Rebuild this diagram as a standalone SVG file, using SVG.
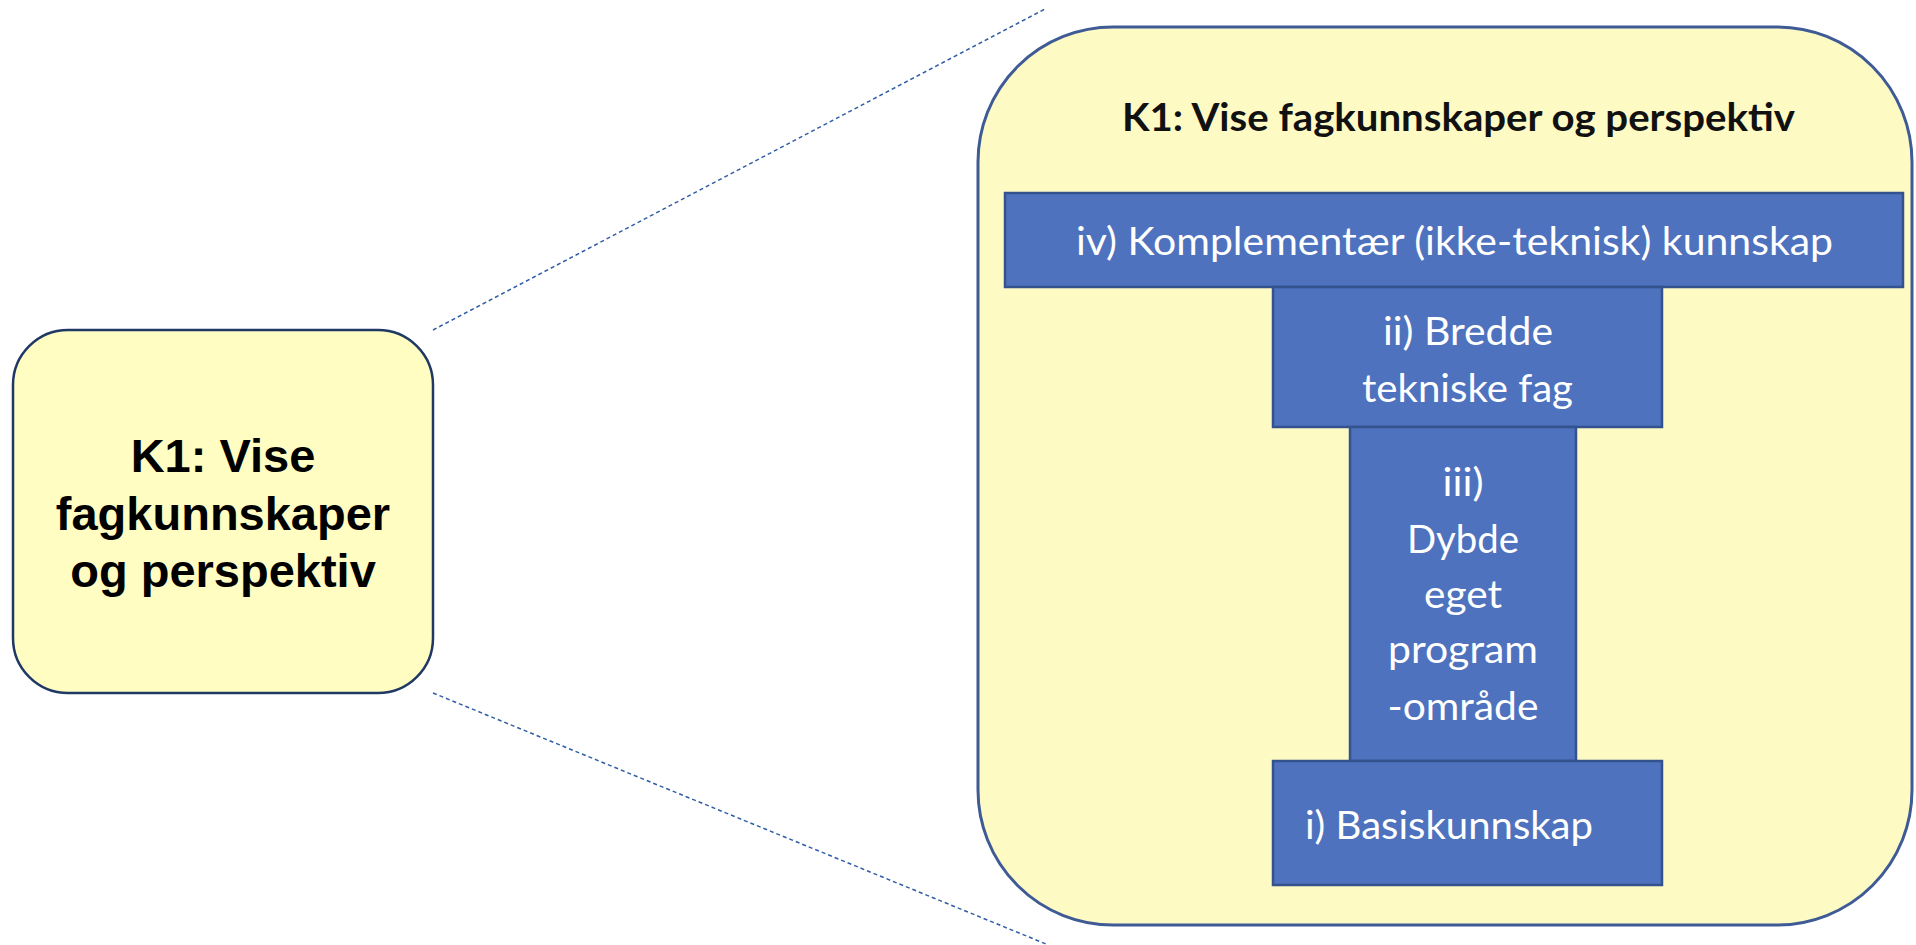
<svg xmlns="http://www.w3.org/2000/svg" width="1916" height="945" viewBox="0 0 1916 945">
  <style>
    .yellow { fill: #FEFAC4; }
    .leftbox { fill: #FFFDC2; stroke: #1F3864; stroke-width: 2.5; }
    .bigbox { fill: #FEFAC4; stroke: #3F5B96; stroke-width: 3; }
    .blue { fill: #4E72BE; stroke: #34528E; stroke-width: 2.5; }
    .conn { stroke: #2F5DA6; stroke-width: 1.5; stroke-dasharray: 4 3; fill: none; }
    .lt { font-family: "Liberation Sans", Arial, sans-serif; font-weight: bold; font-size: 47px; fill: #000; text-anchor: middle; }
    .title { font-family: Lato, "Open Sans", sans-serif; font-weight: bold; font-size: 39px; fill: #111; }
    .wt { font-family: Lato, "Open Sans", sans-serif; font-size: 38px; fill: #FFFFFF; text-anchor: middle; }
  </style>
  <rect width="1916" height="945" fill="#FFFFFF"/>

  <g id="connectors">
    <line class="conn" x1="433" y1="330" x2="1045" y2="9"/>
    <line class="conn" x1="433" y1="693" x2="1046" y2="944"/>
  </g>

  <g id="node-k1-left">
    <rect class="leftbox" x="13" y="330" width="420" height="363" rx="55" ry="55"/>
    <text class="lt" x="223" y="472">K1: Vise</text>
    <text class="lt" x="223" y="530">fagkunnskaper</text>
    <text class="lt" x="223" y="587">og perspektiv</text>
  </g>

  <g id="node-k1-detail">
    <rect class="bigbox" x="978" y="27" width="934" height="898" rx="135" ry="135"/>
    <text class="title" x="1122" y="131" textLength="673" lengthAdjust="spacingAndGlyphs">K1: Vise fagkunnskaper og perspektiv</text>
  </g>

  <g id="node-iv">
    <rect class="blue" x="1005" y="193" width="898" height="94"/>
    <text class="wt" x="1454.5" y="255" textLength="757" lengthAdjust="spacingAndGlyphs">iv) Komplementær (ikke-teknisk) kunnskap</text>
  </g>

  <g id="node-ii">
    <rect class="blue" x="1273" y="287" width="389" height="140"/>
    <text class="wt" x="1468" y="345" textLength="170" lengthAdjust="spacingAndGlyphs">ii) Bredde</text>
    <text class="wt" x="1467.5" y="402" textLength="211" lengthAdjust="spacingAndGlyphs">tekniske fag</text>
  </g>

  <g id="node-iii">
    <rect class="blue" x="1350" y="427" width="226" height="334"/>
    <text class="wt" x="1463" y="496" textLength="41" lengthAdjust="spacingAndGlyphs">iii)</text>
    <text class="wt" x="1463" y="553" textLength="112" lengthAdjust="spacingAndGlyphs">Dybde</text>
    <text class="wt" x="1463" y="608" textLength="78" lengthAdjust="spacingAndGlyphs">eget</text>
    <text class="wt" x="1463" y="663" textLength="150" lengthAdjust="spacingAndGlyphs">program</text>
    <text class="wt" x="1463" y="720" textLength="151" lengthAdjust="spacingAndGlyphs">-område</text>
  </g>

  <g id="node-i">
    <rect class="blue" x="1273" y="761" width="389" height="124"/>
    <text class="wt" x="1305" y="839" style="text-anchor:start" textLength="288" lengthAdjust="spacingAndGlyphs">i) Basiskunnskap</text>
  </g>
</svg>
